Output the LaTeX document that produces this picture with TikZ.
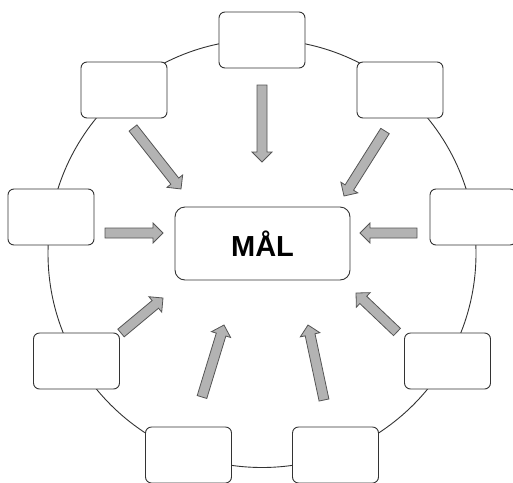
\documentclass[tikz,border=0pt]{standalone}
\usepackage{fontspec}
\setmainfont{Liberation Sans}
\usetikzlibrary{calc}
\definecolor{edge}{HTML}{333333}
\definecolor{arrowfill}{HTML}{B3B3B3}
\definecolor{arrowline}{HTML}{555555}
\tikzset{
  box/.style={draw=edge, line width=0.9pt, fill=white, rounded corners=6pt,
              minimum width=86pt, minimum height=56pt, inner sep=0pt},
  goal/.style={draw=edge, line width=0.9pt, fill=white, rounded corners=10pt,
               minimum width=175pt, minimum height=73pt, inner sep=0pt,
               font=\fontsize{29}{32}\selectfont\bfseries},
  ring/.style={draw=edge, line width=0.9pt},
  blockarrow/.style={fill=arrowfill, draw=arrowline, line width=0.8pt, line join=miter}
}
% thick gray arrow from #1 to #2
\newcommand\blockarrow[2]{%
  \draw[blockarrow] let \p1=(#1), \p2=(#2),
      \n1={atan2(\y2-\y1,\x2-\x1)}, \n2={veclen(\x2-\x1,\y2-\y1)} in
    [shift={(\p1)}, rotate=\n1]
    (0pt,-5pt) -- (\n2-10pt,-5pt) -- (\n2-10pt,-10pt) -- (\n2,0pt)
    -- (\n2-10pt,10pt) -- (\n2-10pt,5pt) -- (0pt,5pt) -- cycle;}
\begin{document}
\begin{tikzpicture}[x=1pt, y=-1pt]
  \useasboundingbox (0,0) rectangle (513,482);
  % the ring linking the outer boxes
  \coordinate (c) at (262,253.5);
  \draw[ring] (c) circle[radius=214pt];

  % goal in the middle
  \node[goal] (mal) at (262.5,243.5) {MÅL};

  % outer boxes
  \node[box] (b1) at (262,40) {};
  \node[box] (b2) at (124,90) {};
  \node[box] (b3) at (400,90) {};
  \node[box] (b4) at (51,217) {};
  \node[box] (b5) at (473,217) {};
  \node[box] (b6) at (76.5,361) {};
  \node[box] (b7) at (447.5,361) {};
  \node[box] (b8) at (188.5,455) {};
  \node[box] (b9) at (335.5,455) {};

  % arrow end points
  \coordinate (a1s) at (262,85);   \coordinate (a1e) at (262,162);
  \coordinate (a2s) at (133,128);  \coordinate (a2e) at (181,189);
  \coordinate (a3s) at (385,131);  \coordinate (a3e) at (344,196);
  \coordinate (a4s) at (105,233);  \coordinate (a4e) at (163,233);
  \coordinate (a5s) at (417,233);  \coordinate (a5e) at (360,233);
  \coordinate (a6s) at (121,333);  \coordinate (a6e) at (163,298);
  \coordinate (a7s) at (202,397);  \coordinate (a7e) at (224,325);
  \coordinate (a8s) at (324,400);  \coordinate (a8e) at (308,325);
  \coordinate (a9s) at (397,332);  \coordinate (a9e) at (356,293);

  \blockarrow{a1s}{a1e}
  \blockarrow{a2s}{a2e}
  \blockarrow{a3s}{a3e}
  \blockarrow{a4s}{a4e}
  \blockarrow{a5s}{a5e}
  \blockarrow{a6s}{a6e}
  \blockarrow{a7s}{a7e}
  \blockarrow{a8s}{a8e}
  \blockarrow{a9s}{a9e}
\end{tikzpicture}
\end{document}
